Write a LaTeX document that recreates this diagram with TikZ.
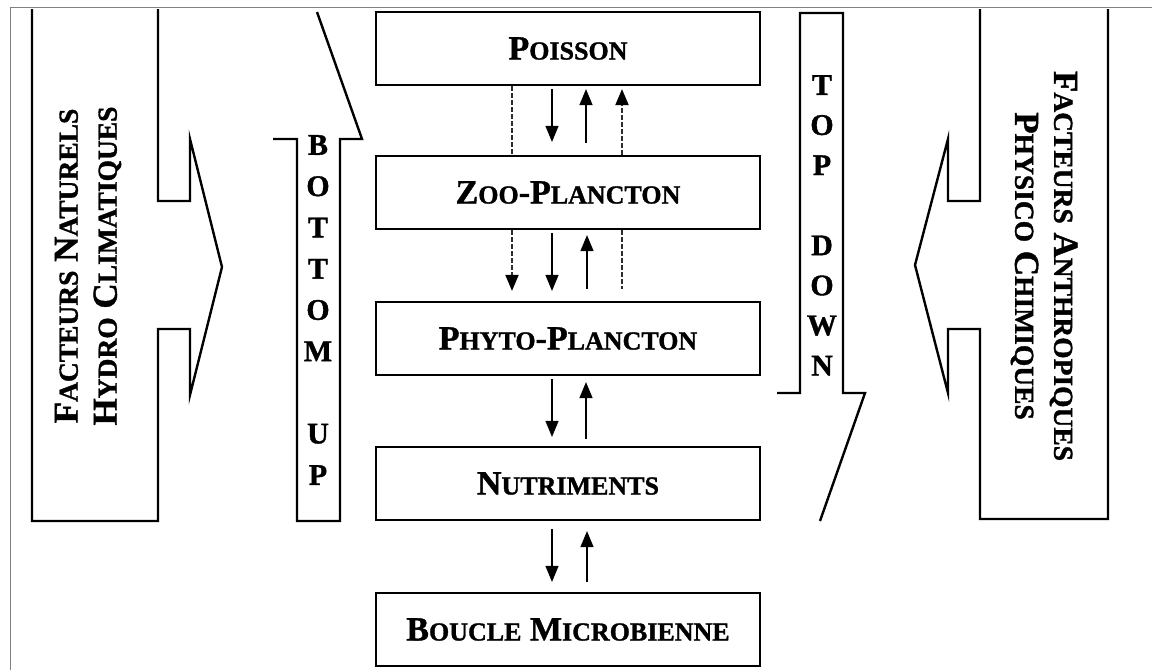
\documentclass[tikz,border=0pt]{standalone}
\usepackage{fontspec}
\setmainfont{Liberation Serif}[BoldFeatures={FakeBold=1.2}]
\usetikzlibrary{arrows.meta}

\newcommand{\pcsize}{26}
\newcommand{\pc}[1]{{\fontsize{\pcsize}{\pcsize}\selectfont #1}}

\tikzset{
  niveau/.style={draw, line width=2.2pt, minimum width=384pt, minimum height=73pt,
    inner sep=0pt, font=\bfseries\fontsize{34}{40}\selectfont},
  flux/.style={line width=1.3pt, -{Triangle[length=16pt,width=13pt]}},
  fluxtir/.style={line width=1.9pt, dash pattern=on 4.5pt off 2.5pt, gray!35!black},
  pointe/.style={-{Triangle[length=16pt,width=13pt,color=black]}},
  contour/.style={line width=2.4pt, line join=miter},
  cote/.style={align=center, inner sep=0pt,
    font={\bfseries\fontsize{35}{39}\selectfont\def\pcsize{27.5}}},
  lettre/.style={inner sep=0pt, font=\bfseries\fontsize{30}{30}\selectfont},
}

\begin{document}
\begin{tikzpicture}[x=1pt,y=-1pt]
  \useasboundingbox (0,0) rectangle (1152,670);
  % Cadre
  \draw[gray, line width=0.8pt] (10,670) -- (10,7) -- (1152,7);

  % Niveaux trophiques
  \node[niveau] (poisson) at (568,48.5) {P\pc{OISSON}};
  \node[niveau] (zoo) at (568,192.5) {Z\pc{OO}-P\pc{LANCTON}};
  \node[niveau] (phyto) at (568,338.5) {P\pc{HYTO}-P\pc{LANCTON}};
  \node[niveau] (nutri) at (568,483.5) {N\pc{UTRIMENTS}};
  \node[niveau] (boucle) at (568,629.5) {B\pc{OUCLE} M\pc{ICROBIENNE}};

  % Flux Poisson / Zoo-plancton
  \draw[fluxtir] ([xshift=-56pt]poisson.south) -- ([xshift=-56pt]zoo.north);
  \draw[flux] ([xshift=-16pt,yshift=-3pt]poisson.south) -- ([xshift=-16pt,yshift=13pt]zoo.north);
  \draw[flux] ([xshift=18pt,yshift=12pt]zoo.north) -- ([xshift=18pt,yshift=-3pt]poisson.south);
  \draw[fluxtir, pointe] ([xshift=54pt]zoo.north) -- ([xshift=54pt,yshift=-3pt]poisson.south);

  % Flux Zoo-plancton / Phyto-plancton
  \draw[fluxtir, pointe] ([xshift=-56pt]zoo.south) -- ([xshift=-56pt,yshift=10pt]phyto.north);
  \draw[flux] ([xshift=-16pt,yshift=-3pt]zoo.south) -- ([xshift=-16pt,yshift=10pt]phyto.north);
  \draw[flux] ([xshift=19pt,yshift=12pt]phyto.north) -- ([xshift=19pt,yshift=-5pt]zoo.south);
  \draw[fluxtir] ([xshift=54pt]zoo.south) -- ([xshift=54pt,yshift=12pt]phyto.north);

  % Flux Phyto-plancton / Nutriments
  \draw[flux] ([xshift=-16pt,yshift=-3pt]phyto.south) -- ([xshift=-16pt,yshift=9pt]nutri.north);
  \draw[flux] ([xshift=18pt,yshift=7pt]nutri.north) -- ([xshift=18pt,yshift=-6pt]phyto.south);

  % Flux Nutriments / Boucle microbienne
  \draw[flux] ([xshift=-16pt,yshift=-8pt]nutri.south) -- ([xshift=-16pt,yshift=10pt]boucle.north);
  \draw[flux] ([xshift=19pt,yshift=10pt]boucle.north) -- ([xshift=19pt,yshift=-10pt]nutri.south);

  % Grandes fleches laterales
  \draw[contour] (158,9) -- (158,201) -- (190,201) -- (190,139) -- (222,267)
    -- (190,395) -- (190,329) -- (158,329) -- (158,521) -- (32,521) -- (32,9);
  \draw[contour] (980,9) -- (980,201) -- (948,201) -- (948,139) -- (915,265)
    -- (948,393) -- (948,329) -- (980,329) -- (980,519) -- (1108,519) -- (1108,9);
  \node[cote, rotate=90] (naturels) at (88,266)
    {F\pc{ACTEURS} N\pc{ATURELS}\\H\pc{YDRO} C\pc{LIMATIQUES}};
  \node[cote, rotate=-90] (anthropiques) at (1044,266)
    {F\pc{ACTEURS} A\pc{NTHROPIQUES}\\P\pc{HYSICO} C\pc{HIMIQUES}};

  % Bottom up / Top down
  \draw[contour] (273,139) -- (297,139) -- (297,521) -- (340,521) -- (340,139)
    -- (362,139) -- (317,12);
  \draw[contour] (777,393) -- (800,393) -- (800,13) -- (843,13) -- (843,393)
    -- (865,393) -- (820,521);
  \foreach \l/\k in {B/0,O/1,T/2,T/3,O/4,M/5,U/7,P/8}
    \node[lettre] (bu\k) at (318,145+41.25*\k) {\l};
  \foreach \l/\k in {T/0,O/1,P/2,D/4,O/5,W/6,N/7}
    \node[lettre] (td\k) at (822,85+40.1*\k) {\l};
\end{tikzpicture}
\end{document}
